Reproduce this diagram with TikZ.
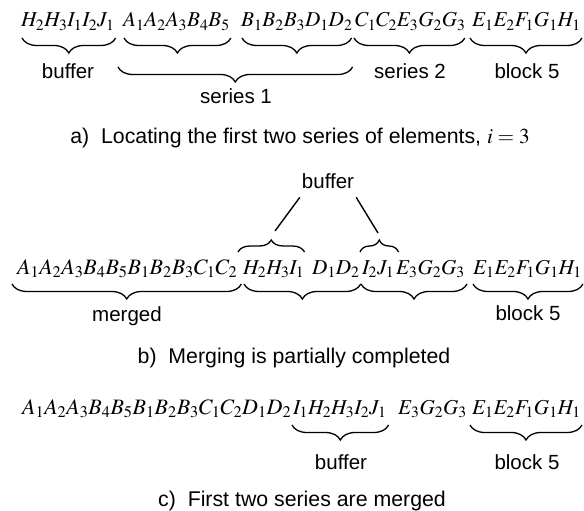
\documentclass[tikz,border=0pt]{standalone}
\usepackage{mathptmx}
\usepackage[no-math]{fontspec}
\setmainfont{Liberation Sans}
\usetikzlibrary{decorations.pathreplacing,calc}
\newcommand{\seqsize}{\fontsize{21.2}{25}\selectfont}
\newcommand{\seqwsize}{\fontsize{22}{25}\selectfont}
\newcommand{\lblsize}{\fontsize{20.5}{24}\selectfont}
\newcommand{\capsize}{\fontsize{21.3}{25}\selectfont}
\tikzset{
  seq/.style={inner sep=0pt, anchor=base west, font=\seqsize},
  seqw/.style={seq, font=\seqwsize},
  lbl/.style={inner sep=0pt, anchor=base, font=\lblsize},
  captn/.style={inner sep=0pt, anchor=base, font=\capsize},
  bdown/.style={decorate, decoration={brace, mirror, amplitude=15pt}, line width=1.3pt},
  bup/.style={decorate, decoration={brace, amplitude=12pt}, line width=1.3pt},
  ln/.style={line width=1.4pt},
}
\begin{document}
\begin{tikzpicture}[x=1pt,y=-1pt]
\useasboundingbox (0,0) rectangle (584,511);
% ---------- panel a ----------
\node[seq] (a1) at (21,27) {$H_2H_3I_1I_2J_1$};
\node[seq] (a2) at (123,27) {$A_1A_2A_3B_4B_5$};
\node[seq] (a3) at (241,27) {$B_1B_2B_3D_1D_2$};
\node[seq] (a4) at (355,27) {$C_1C_2E_3G_2G_3$};
\node[seq] (a5) at (472,27) {$E_1E_2F_1G_1H_1$};
\draw[bdown] ([shift={(1,11)}]a1.base west) -- ([shift={(1,11)}]a1.base east);
\draw[bdown] ([shift={(1,11)}]a2.base west) -- ([shift={(1,11)}]a2.base east);
\draw[bdown] ([shift={(1,11)}]a3.base west) -- ([shift={(-1,11)}]a3.base east);
\draw[bdown] ([shift={(-1,11)}]a4.base west) -- ([shift={(-1,11)}]a4.base east);
\draw[bdown] ([shift={(-2,11)}]a5.base west) -- ([shift={(1,11)}]a5.base east);
\draw[bdown] ([shift={(-5,40)}]a2.base west) -- ([shift={(0,40)}]a3.base east);
\node[lbl] (la1) at (68,78) {buffer};
\node[lbl] (la2) at (236,103) {series 1};
\node[lbl] (la3) at (410,78) {series 2};
\node[lbl] (la4) at (527,78) {block 5};
\node[captn] (capa) at (300,143) {a)\ \ Locating the first two series of elements, $i=3$};
% ---------- panel b ----------
\node[seqw] (b1) at (17,274) {$A_1A_2A_3B_4B_5B_1B_2B_3C_1C_2$};
\node[seq] (b2) at (243,274) {$H_2H_3I_1$};
\node[seq] (b3) at (312,274) {$D_1D_2$};
\node[seq] (b4) at (362,274) {$I_2J_1$};
\node[seq] (b5) at (396,274) {$E_3G_2G_3$};
\node[seq] (b6) at (473,274) {$E_1E_2F_1G_1H_1$};
\draw[bdown] ([shift={(-5,10)}]b1.base west) -- ([shift={(4,10)}]b1.base east);
\draw[bdown] ([shift={(1,10)}]b2.base west) -- ([shift={(1,10)}]b3.base east);
\draw[bdown] ([shift={(-1,10)}]b4.base west) -- ([shift={(2,10)}]b5.base east);
\draw[bdown] ([shift={(0,10)}]b6.base west) -- ([shift={(1,10)}]b6.base east);
\draw[bup] ([shift={(-5,-22)}]b2.base west) -- ([shift={(0,-22)}]b2.base east);
\draw[bup] ([shift={(-2,-22)}]b4.base west) -- ([shift={(4,-22)}]b4.base east);
\coordinate (tipL) at (275,231);
\coordinate (tipR) at (378,233);
\node[lbl] (lbuf) at (328,188) {buffer};
\draw[ln] ([shift={(-2,9)}]lbuf.south west) -- (tipL);
\draw[ln] ([shift={(2,9)}]lbuf.south east) -- (tipR);
\node[lbl] (lb1) at (127,321) {merged};
\node[lbl] (lb2) at (528,320) {block 5};
\node[captn] (capb) at (294,363) {b)\ \ Merging is partially completed};
% ---------- panel c ----------
\node[seqw] (c1) at (22,414) {$A_1A_2A_3B_4B_5B_1B_2B_3C_1C_2D_1D_2$};
\node[seq] (c2) at (293,414) {$I_1H_2H_3I_2J_1$};
\node[seq] (c3) at (398,414) {$E_3G_2G_3$};
\node[seq] (c4) at (472,414) {$E_1E_2F_1G_1H_1$};
\draw[bdown] ([shift={(-1,11)}]c2.base west) -- ([shift={(2,11)}]c2.base east);
\draw[bdown] ([shift={(-2,11)}]c4.base west) -- ([shift={(1,11)}]c4.base east);
\node[lbl] (lc1) at (341,469) {buffer};
\node[lbl] (lc2) at (527,469) {block 5};
\node[captn] (capc) at (302,506) {c)\ \ First two series are merged};
\end{tikzpicture}
\end{document}
